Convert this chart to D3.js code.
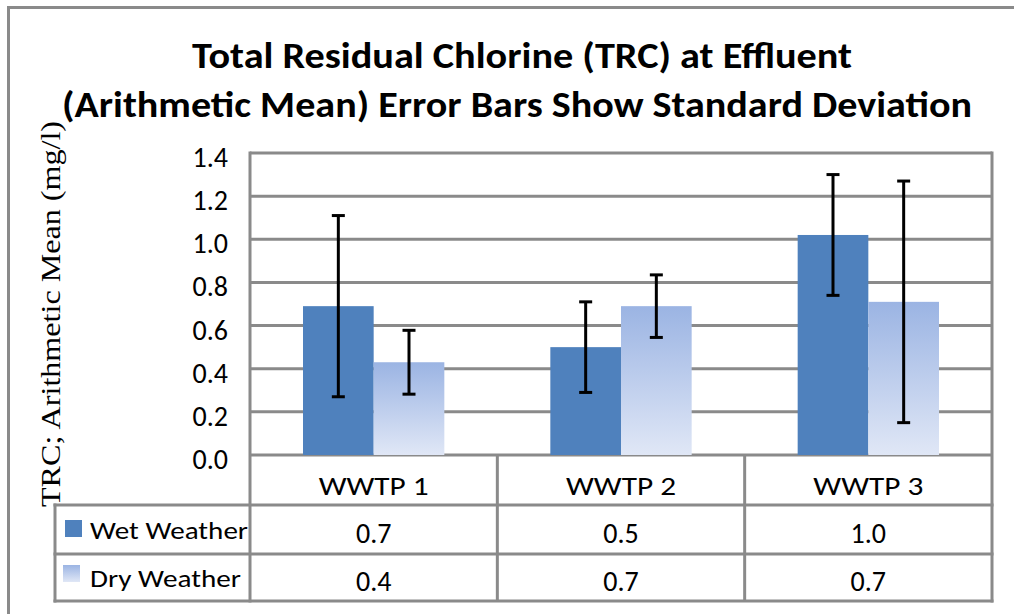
<!DOCTYPE html>
<html>
<head>
  <meta charset="utf-8">
  <title>Total Residual Chlorine (TRC) at Effluent</title>
  <style>
    body { margin: 0; background: #fff; }
    svg { display: block; }
  </style>
</head>
<body>
  <script src="https://d3js.org/d3.v7.min.js"></script>
  <script type="text/javascript">

var categories = ["WWTP 1", "WWTP 2", "WWTP 3"];
var seriesNames = ["Wet Weather", "Dry Weather"];
var wetMean = [0.69, 0.50, 1.02];
var wetSD   = [0.42, 0.21, 0.28];
var dryMean = [0.43, 0.69, 0.71];
var drySD   = [0.148, 0.145, 0.56];
var yTicks  = [0, 0.2, 0.4, 0.6, 0.8, 1.0, 1.2, 1.4];

var W = 1014, H = 614;
var plot = {left: 250, right: 992, top: 153, bottom: 455};
var rowY = [455, 505, 554, 601];   // table row edges
var legendLeft = 55;
var gray = "#8a8a8a";
var calibri = "Carlito, Calibri, Lato, 'Open Sans', sans-serif";

var data = categories.map(function(c, i) {
  return {cat: c, values: [
    {key: seriesNames[0], mean: wetMean[i], sd: wetSD[i]},
    {key: seriesNames[1], mean: dryMean[i], sd: drySD[i]}
  ]};
});

var svg = d3.select("body").append("svg")
    .attr("width", W)
    .attr("height", H);

var defs = svg.append("defs");
var grad = defs.append("linearGradient")
    .attr("id", "dryGrad")
    .attr("x1", 0).attr("y1", 0).attr("x2", 0).attr("y2", 1);
grad.append("stop").attr("offset", "0%").attr("stop-color", "#9bb4e3");
grad.append("stop").attr("offset", "100%").attr("stop-color", "#e0e7f6");

var fills = [ "#4f81bd", "url(#dryGrad)" ];

// outer chart border (runs off the right and bottom edges)
svg.append("rect")
    .attr("x", 8.5).attr("y", 7.5)
    .attr("width", W + 20).attr("height", H + 20)
    .attr("fill", "none")
    .attr("stroke", gray)
    .attr("stroke-width", 3);

var x0 = d3.scaleBand()
    .domain(categories)
    .range([plot.left, plot.right])
    .paddingInner(0).paddingOuter(0);

var x1 = d3.scaleBand()
    .domain(seriesNames)
    .range([0, x0.bandwidth()])
    .paddingInner(0).paddingOuter(0.75);

var y = d3.scaleLinear()
    .domain([0, 1.4])
    .range([plot.bottom, plot.top]);

// gridlines
svg.append("g").selectAll("line")
    .data(yTicks)
    .enter().append("line")
    .attr("x1", plot.left).attr("x2", plot.right)
    .attr("y1", function(d){ return y(d); })
    .attr("y2", function(d){ return y(d); })
    .attr("stroke", gray)
    .attr("stroke-width", 3);

// y tick labels
svg.append("g").selectAll("text")
    .data(yTicks)
    .enter().append("text")
    .attr("x", 228)
    .attr("y", function(d){ return y(d) + 14; })
    .attr("text-anchor", "end")
    .style("font-family", calibri)
    .style("font-size", "28px")
    .attr("fill", "#000")
    .text(d3.format(".1f"));

// bars
var groups = svg.append("g").selectAll("g")
    .data(data)
    .enter().append("g")
    .attr("transform", function(d){ return "translate(" + x0(d.cat) + ",0)"; });

groups.selectAll("rect")
    .data(function(d){ return d.values; })
    .enter().append("rect")
    .attr("x", function(d){ return x1(d.key); })
    .attr("width", x1.bandwidth())
    .attr("y", function(d){ return y(d.mean); })
    .attr("height", function(d){ return y(0) - y(d.mean); })
    .attr("fill", function(d, i){ return fills[i]; });

// error bars
var err = groups.selectAll("g.err")
    .data(function(d){ return d.values; })
    .enter().append("g")
    .attr("class", "err")
    .attr("transform", function(d){ return "translate(" + (x1(d.key) + x1.bandwidth() / 2) + ",0)"; });

err.append("line")
    .attr("x1", 0).attr("x2", 0)
    .attr("y1", function(d){ return y(d.mean + d.sd); })
    .attr("y2", function(d){ return y(d.mean - d.sd); })
    .attr("stroke", "#000").attr("stroke-width", 3);
err.selectAll("line.cap")
    .data(function(d){ return [d.mean + d.sd, d.mean - d.sd]; })
    .enter().append("line")
    .attr("class", "cap")
    .attr("x1", -6.5).attr("x2", 6.5)
    .attr("y1", function(d){ return y(d); })
    .attr("y2", function(d){ return y(d); })
    .attr("stroke", "#000").attr("stroke-width", 3);

// frame + data table lines
var lines = svg.append("g").attr("stroke", gray).attr("stroke-width", 3);
lines.append("line").attr("x1", plot.left).attr("x2", plot.left).attr("y1", plot.top - 1.5).attr("y2", rowY[3] + 1.5);
lines.append("line").attr("x1", plot.right).attr("x2", plot.right).attr("y1", plot.top - 1.5).attr("y2", rowY[3] + 1.5);
lines.append("line").attr("x1", legendLeft).attr("x2", legendLeft).attr("y1", rowY[1] - 1.5).attr("y2", rowY[3] + 1.5);
lines.selectAll("line.div")
    .data(categories.slice(1))
    .enter().append("line")
    .attr("class", "div")
    .attr("x1", function(d){ return x0(d); })
    .attr("x2", function(d){ return x0(d); })
    .attr("y1", rowY[0]).attr("y2", rowY[3]);
lines.selectAll("line.row")
    .data(rowY.slice(1))
    .enter().append("line")
    .attr("class", "row")
    .attr("x1", legendLeft - 1.5).attr("x2", plot.right + 1.5)
    .attr("y1", function(d){ return d; })
    .attr("y2", function(d){ return d; });

// category labels
svg.append("g").selectAll("text")
    .data(categories)
    .enter().append("text")
    .attr("x", function(d){ return x0(d) + x0.bandwidth() / 2; })
    .attr("y", 495)
    .attr("text-anchor", "middle")
    .style("font-family", calibri)
    .style("font-size", "27px")
    .attr("textLength", 110)
    .attr("lengthAdjust", "spacingAndGlyphs")
    .text(function(d){ return d; });

// table values
var tableRows = [wetMean, dryMean];
var baselines = [543, 591];
tableRows.forEach(function(vals, r) {
  svg.append("g").selectAll("text")
      .data(vals)
      .enter().append("text")
      .attr("x", function(d, i){ return x0(categories[i]) + x0.bandwidth() / 2; })
      .attr("y", baselines[r])
      .attr("text-anchor", "middle")
      .style("font-family", calibri)
      .style("font-size", "28px")
      .text(d3.format(".1f"));
});

// legend keys in the table
var keyBox = [[65, 520], [63, 565]];
seriesNames.forEach(function(s, i) {
  svg.append("rect")
      .attr("x", keyBox[i][0]).attr("y", keyBox[i][1])
      .attr("width", 17).attr("height", 17)
      .attr("fill", fills[i]);
  svg.append("text")
      .attr("x", 90)
      .attr("y", baselines[i] - 4)
      .style("font-family", calibri)
      .style("font-size", "25px")
      .attr("textLength", i === 0 ? 158 : 151)
      .attr("lengthAdjust", "spacingAndGlyphs")
      .text(s);
});

// y axis title
svg.append("text")
    .attr("transform", "translate(60,314) rotate(-90)")
    .attr("text-anchor", "middle")
    .style("font-family", "'Liberation Serif', 'Times New Roman', serif")
    .style("font-size", "28px")
    .attr("textLength", 386)
    .attr("lengthAdjust", "spacingAndGlyphs")
    .text("TRC; Arithmetic Mean (mg/l)");

// chart title
var titleLines = [
  {t: "Total Residual Chlorine (TRC) at Effluent", cx: 522, y: 68, w: 660},
  {t: "(Arithmetic Mean) Error Bars Show Standard Deviation", cx: 517, y: 117, w: 910}
];
svg.append("g").selectAll("text")
    .data(titleLines)
    .enter().append("text")
    .attr("x", function(d){ return d.cx; })
    .attr("y", function(d){ return d.y; })
    .attr("text-anchor", "middle")
    .style("font-family", calibri)
    .style("font-weight", "bold")
    .style("font-size", "36px")
    .attr("textLength", function(d){ return d.w; })
    .attr("lengthAdjust", "spacingAndGlyphs")
    .text(function(d){ return d.t; });

  </script>
</body>
</html>
